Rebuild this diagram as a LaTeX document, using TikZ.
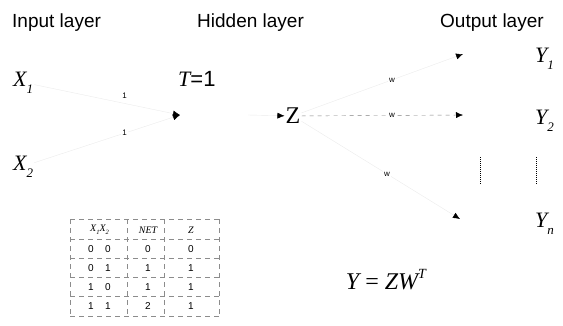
\documentclass[tikz,border=0pt]{standalone}
\usepackage{fontspec}
\setmainfont{Liberation Serif}
\setsansfont{Liberation Sans}
\usetikzlibrary{arrows.meta}
\newcommand{\lsub}[1]{\raisebox{-0.32em}{\fontsize{13}{13}\selectfont\itshape #1}}
\newcommand{\usup}[1]{\raisebox{0.42em}{\fontsize{14}{14}\selectfont\itshape #1}}
\newcommand{\tsub}[1]{\raisebox{-0.3em}{\fontsize{6.5}{6.5}\selectfont\itshape #1}}
\tikzset{
  layer/.style={font=\sffamily\fontsize{19}{21}\selectfont, anchor=base west, inner sep=0pt},
  var/.style={font=\fontsize{22}{24}\selectfont\itshape, anchor=base west, inner sep=1pt},
  conn/.style={draw=black!8, line width=0.4pt, -{Latex[length=7pt,width=6pt,color=black]}},
  wt/.style={font=\sffamily\fontsize{8}{8}\selectfont, fill=white, inner sep=1pt},
  cell/.style={font=\sffamily\fontsize{10}{10}\selectfont, inner sep=0pt},
  hcell/.style={font=\fontsize{10}{10}\selectfont\itshape, inner sep=0pt},
  tblline/.style={draw=black!45, line width=0.5pt, dash pattern=on 5pt off 4pt},
  vdots/.style={draw=black, line width=1pt, densely dotted},
}
\begin{document}
\begin{tikzpicture}[x=1pt,y=-1pt]
\useasboundingbox (0,0) rectangle (563,325);
% layer titles
\node[layer] (inl) at (12,27) {Input layer};
\node[layer] (hidl) at (197,27) {Hidden layer};
\node[layer] (outl) at (440,27) {Output layer};
% input nodes
\node[var] (X1) at (12,86) {X\lsub{1}};
\node[var] (X2) at (12,170) {X\lsub{2}};
% hidden
\node[var] (T) at (177,86) {T{\upshape\sffamily =1}};
\coordinate (hin) at (180,115);
\coordinate (hout) at (248,115);
\node[font=\fontsize{24}{24}\selectfont, inner sep=1pt] (Z) at (293,116) {Z};
% outputs
\coordinate (o1) at (463,54);
\coordinate (o2) at (463,115);
\coordinate (on) at (460,219);
\node[var] (Y1) at (534,62) {Y\lsub{1}};
\node[var] (Y2) at (534,124) {Y\lsub{2}};
\node[var] (Yn) at (534,227) {Y\lsub{n}};
% connectors
\draw[conn] (X1) -- node[wt, pos=.62, yshift=8pt] (w11) {1} (hin);
\draw[conn] (X2) -- node[wt, pos=.62] (w21) {1} (hin);
\draw[conn] (hout) -- (Z);
\draw[conn] (Z) -- node[wt, pos=.56] (wa) {w} (o1);
\draw[conn, draw=black!50, dash pattern=on 4pt off 4pt] (Z) -- node[wt, pos=.56] (wb) {w} (o2);
\draw[conn] (Z) -- node[wt, pos=.54] (wc) {w} (on);
% vertical dots
\coordinate (d1a) at (480,157);
\coordinate (d1b) at (480,185);
\coordinate (d2a) at (536,157);
\coordinate (d2b) at (536,185);
\draw[vdots] (d1a) -- (d1b);
\draw[vdots] (d2a) -- (d2b);
% truth table
\foreach \yy in {219,239.5,258.5,277.5,296.5,316}
  \draw[tblline] (70,\yy) -- (219,\yy);
\foreach \xx in {70,127,164,219}
  \draw[tblline] (\xx,219) -- (\xx,316);
\node[hcell] (hx) at (99.5,230) {X\tsub{1}X\tsub{2}};
\node[hcell] (hnet) at (148,230) {NET};
\node[hcell] (hz) at (191,230) {Z};
\foreach \r/\a/\b/\n/\z in {1/0/0/0/0, 2/0/1/1/1, 3/1/0/1/1, 4/1/1/2/1} {
  \node[cell] (ca\r) at (91,{230+19*\r}) {\a};
  \node[cell] (cb\r) at (108,{230+19*\r}) {\b};
  \node[cell] (cn\r) at (148,{230+19*\r}) {\n};
  \node[cell] (cz\r) at (191,{230+19*\r}) {\z};
}
% equation
\node[font=\fontsize{24}{24}\selectfont\itshape, anchor=base, inner sep=0pt] (eq) at (386,289) {Y {\upshape =} ZW\usup{T}};
\end{tikzpicture}
\end{document}
